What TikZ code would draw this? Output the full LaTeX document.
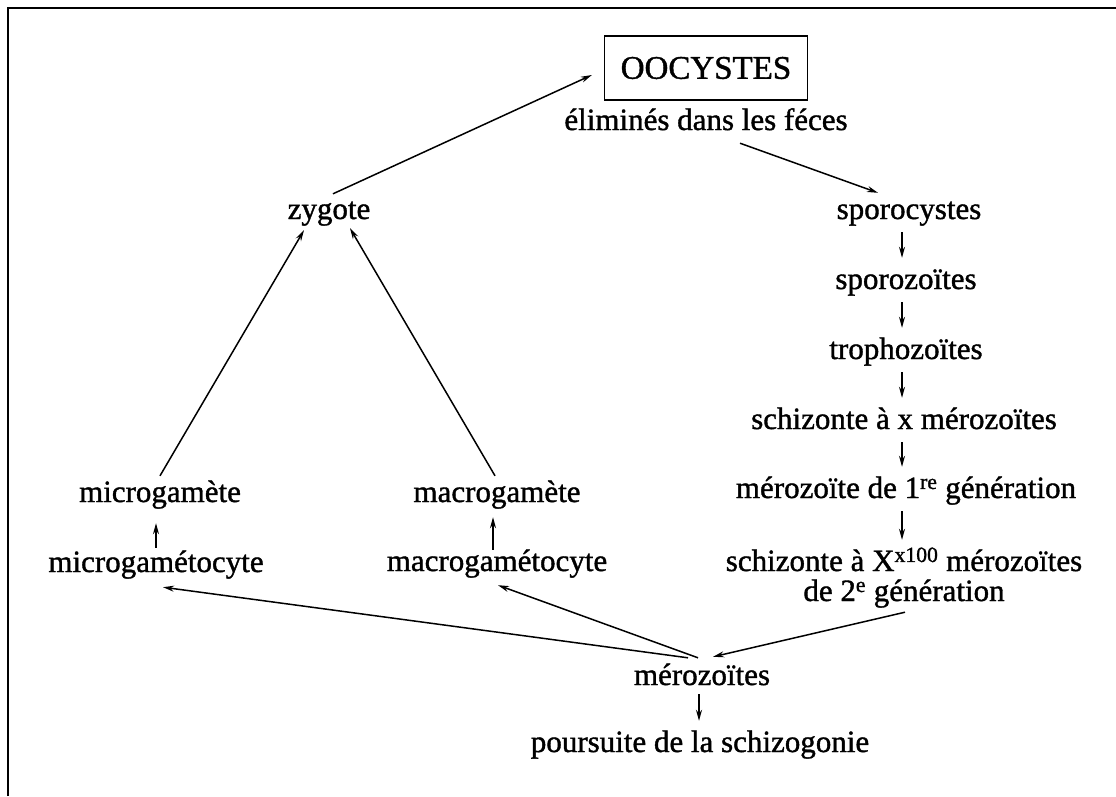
\documentclass[tikz,border=0pt]{standalone}
\usepackage{fontspec}
\setmainfont{Liberation Serif}[RawFeature={embolden=1.2}]
\usetikzlibrary{arrows.meta}
\begin{document}
\begin{tikzpicture}[x=1pt,y=-1pt,
  lbl/.style={inner sep=2pt,font=\fontsize{31}{36}\selectfont,text height=21pt,text depth=7pt},
  arr/.style={line width=1.5pt,-{Stealth[length=11pt,width=6pt]}},
  frame/.style={line width=2.2pt}
]
\useasboundingbox (0,0) rectangle (1116,796);
\draw[frame] (8,796) -- (8,8) -- (1116,8);

\node[draw,line width=1.3pt,minimum width=203pt,minimum height=64pt,inner sep=0pt,font=\fontsize{33}{38}\selectfont] (ooc) at (706,68) {OOCYSTES};
\node[lbl] (elim) at (706,123) {éliminés dans les féces};
\node[lbl] (zyg) at (329,212) {zygote};
\node[lbl] (spc) at (909,212) {sporocystes};
\node[lbl] (spz) at (906,282) {sporozoïtes};
\node[lbl] (tro) at (906,352) {trophozoïtes};
\node[lbl] (sch1) at (904,422) {schizonte à x mérozoïtes};
\node[lbl] (mer1) at (906,491) {mérozoïte de 1\textsuperscript{re} génération};
\node[lbl] (sch2) at (904,564) {schizonte à X\textsuperscript{x100} mérozoïtes};
\node[lbl] (gen2) at (904,594) {de 2\textsuperscript{e} génération};
\node[lbl] (micg) at (160,495) {microgamète};
\node[lbl] (micc) at (156,565) {microgamétocyte};
\node[lbl] (macg) at (497,495) {macrogamète};
\node[lbl] (macc) at (497,564) {macrogamétocyte};
\node[lbl] (mer) at (702,678) {mérozoïtes};
\node[lbl] (pou) at (700,745) {poursuite de la schizogonie};

\draw[arr] ([shift={(4,-2)}]zyg.north) -- ([shift={(-12,7)}]ooc.west);
\draw[arr] ([shift={(34,4)}]elim.south) -- ([shift={(-31,-3)}]spc.north);
\draw[arr] ([shift={(-7,4)}]spc.south) -- ([shift={(-4,-8)}]spz.north);
\draw[arr] ([shift={(-4,4)}]spz.south) -- ([shift={(-4,-8)}]tro.north);
\draw[arr] ([shift={(-4,4)}]tro.south) -- ([shift={(-2,-8)}]sch1.north);
\draw[arr] ([shift={(-2,4)}]sch1.south) -- ([shift={(-4,-8)}]mer1.north);
\draw[arr] ([shift={(-4,4)}]mer1.south) -- ([shift={(-2,-8)}]sch2.north);
\draw[arr] ([shift={(0,-3)}]micg.north) -- ([shift={(-25,2)}]zyg.south);
\draw[arr] ([shift={(-2,-3)}]macg.north) -- ([shift={(21,0)}]zyg.south);
\draw[arr] ([shift={(0,-1)}]micc.north) -- ([shift={(-4,12)}]micg.south);
\draw[arr] ([shift={(-4,2)}]macc.north) -- ([shift={(-4,6)}]macg.south);
\draw[arr] ([shift={(-14,-4)}]mer.north) -- ([shift={(7,6)}]micc.south);
\draw[arr] ([shift={(-4,-4)}]mer.north) -- ([shift={(1,5)}]macc.south);
\draw[arr] ([shift={(1,2)}]gen2.south) -- ([shift={(11,-5)}]mer.north);
\draw[arr] ([shift={(-3,0)}]mer.south) -- ([shift={(-1,-8)}]pou.north);
\end{tikzpicture}
\end{document}
